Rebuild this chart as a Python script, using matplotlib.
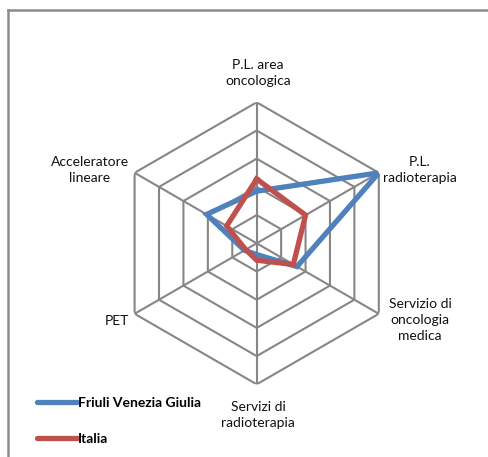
import numpy as np
import matplotlib

matplotlib.use("Agg")

import matplotlib.pyplot as plt
from matplotlib.lines import Line2D

# Dati del grafico
categorie = [
    "P.L. area\noncologica",
    "P.L.\nradioterapia",
    "Servizio di\noncologia\nmedica",
    "Servizi di\nradioterapia",
    "PET",
    "Acceleratore\nlineare",
]
friuli = [1.85, 5.0, 1.65, 0.4, 0.5, 2.05]
italia = [2.28, 2.0, 1.5, 0.6, 0.45, 1.23]
serie_nomi = ["Friuli Venezia Giulia", "Italia"]

W, H = 489, 457
BLU = "#4F81BD"
ROSSO = "#C0504D"
GRIGIO = "#868686"

plt.rcParams["font.family"] = ["Lato", "DejaVu Sans"]


def px(x, y):
    # da pixel (origine in alto a sinistra) a frazione di figura
    return x / W, 1 - y / H


fig = plt.figure(figsize=(W / 100, H / 100), dpi=100)

# Cornice (solo lato superiore e sinistro visibili)
fig.add_artist(Line2D([8 / W, 1], [1 - 10 / H] * 2, color="#8c8c8c", lw=1.8))
fig.add_artist(Line2D([8 / W] * 2, [1 - 10 / H, 0], color="#8c8c8c", lw=1.8))

# Assi polari
cx, cy, r = 256.7, 243.3, 141
ax = fig.add_axes([(cx - r) / W, 1 - (cy + r) / H, 2 * r / W, 2 * r / H],
                  projection="polar")
ax.set_theta_offset(np.pi / 2)
ax.set_theta_direction(-1)
ax.set_ylim(0, 5)
ax.grid(False)
ax.spines["polar"].set_visible(False)
ax.set_xticks([])
ax.set_yticks([])
ax.patch.set_alpha(0)

n = len(categorie)
angoli = np.linspace(0, 2 * np.pi, n, endpoint=False)
chiuso = np.append(angoli, angoli[0])

# Griglia esagonale
for livello in range(1, 6):
    ax.plot(chiuso, [livello] * (n + 1), color=GRIGIO, lw=1.5, zorder=1)
for a in angoli:
    ax.plot([a, a], [0, 5], color=GRIGIO, lw=1.5, zorder=1)

# Serie
ax.plot(chiuso, friuli + friuli[:1], color=BLU, lw=3.8, zorder=3,
        solid_joinstyle="miter")
ax.plot(chiuso, italia + italia[:1], color=ROSSO, lw=3.8, zorder=4,
        solid_joinstyle="miter")

# Etichette delle categorie
pos_etichette = [(258, 73), (420, 170), (420, 320), (258, 415), (117, 321), (90, 170)]
for testo, (x, y) in zip(categorie, pos_etichette):
    fx, fy = px(x, y)
    fig.text(fx, fy, testo, ha="center", va="center", fontsize=10,
             linespacing=1.45, color="#111111")

# Legenda
maniglie = [Line2D([], [], color=BLU, lw=3.8, solid_capstyle="round"),
            Line2D([], [], color=ROSSO, lw=3.8, solid_capstyle="round")]
fig.legend(
    maniglie,
    serie_nomi,
    loc="upper left",
    bbox_to_anchor=px(37, 397),
    frameon=False,
    handlelength=2.9,
    handletextpad=0.05,
    labelspacing=1.75,
    borderpad=0,
    borderaxespad=0,
    prop={"weight": "bold", "size": 10},
)

plt.savefig("out.png", dpi=100)
plt.close()
